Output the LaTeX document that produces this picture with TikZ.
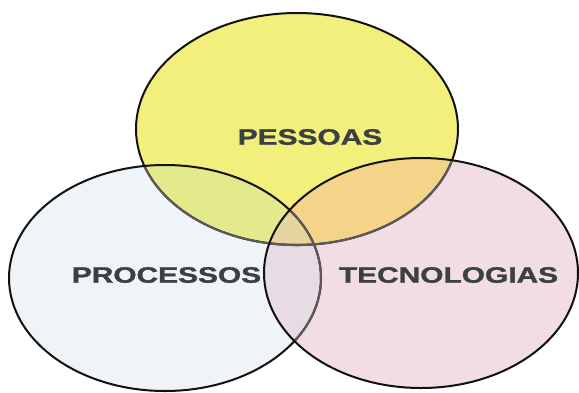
\documentclass[tikz,border=0pt]{standalone}
\usepackage{fontspec}
\setmainfont{Liberation Sans}
\newfontfamily\heavyfont[FakeBold=1.2]{Liberation Sans Bold}
\definecolor{cY}{HTML}{F3EF7C}
\definecolor{cB}{HTML}{EEF4F8}
\definecolor{cP}{HTML}{F1DDE3}
\definecolor{cYB}{HTML}{E3EA8B}
\definecolor{cYP}{HTML}{F4D488}
\definecolor{cBP}{HTML}{E7DBE4}
\definecolor{cYBP}{HTML}{E6D59F}
\definecolor{cLine}{HTML}{111111}
\definecolor{cDim}{HTML}{5E585B}
\definecolor{cText}{HTML}{3B4043}
\tikzset{
  outline/.style={draw=cLine, line width=2pt},
  dimline/.style={draw=cDim, line width=2.1pt},
  label/.style={font=\heavyfont\fontsize{22.3}{24}\selectfont, text=cText, xscale=1.34, inner sep=0pt}
}
\def\Ypath{(297,129) ellipse [x radius=161pt, y radius=116pt]}
\def\Bpath{(165,278) ellipse [x radius=156pt, y radius=113pt]}
\def\Ppath{(421,273) ellipse [x radius=157pt, y radius=115pt]}
\begin{document}
\begin{tikzpicture}[x=1pt,y=-1pt]
\useasboundingbox (0,0) rectangle (579,392);
\fill[white] (0,0) rectangle (579,392);
% base fills
\fill[cY] \Ypath;
\fill[cB] \Bpath;
\fill[cP] \Ppath;
% overlaps
\begin{scope}
  \clip \Ypath;
  \fill[cYB] \Bpath;
  \fill[cYP] \Ppath;
  \clip \Bpath;
  \fill[cYBP] \Ppath;
\end{scope}
\begin{scope}
  \clip \Bpath;
  \clip \Ppath;
  \fill[cBP] (0,0) rectangle (579,392);
  \clip \Ypath;
  \fill[cYBP] (0,0) rectangle (579,392);
\end{scope}
% outlines
\draw[outline] \Ypath;
\begin{scope}
  \clip \Bpath;
  \draw[dimline] \Ypath;
\end{scope}
\draw[outline] \Bpath;
\begin{scope}
  \clip \Ppath;
  \draw[dimline] \Ypath;
  \draw[dimline] \Bpath;
\end{scope}
\draw[outline] \Ppath;
% labels
\node[label] (pessoas) at (310,137) {PESSOAS};
\node[label] (processos) at (166.5,275) {PROCESSOS};
\node[label] (tecnologias) at (448.5,275) {TECNOLOGIAS};
\end{tikzpicture}
\end{document}
